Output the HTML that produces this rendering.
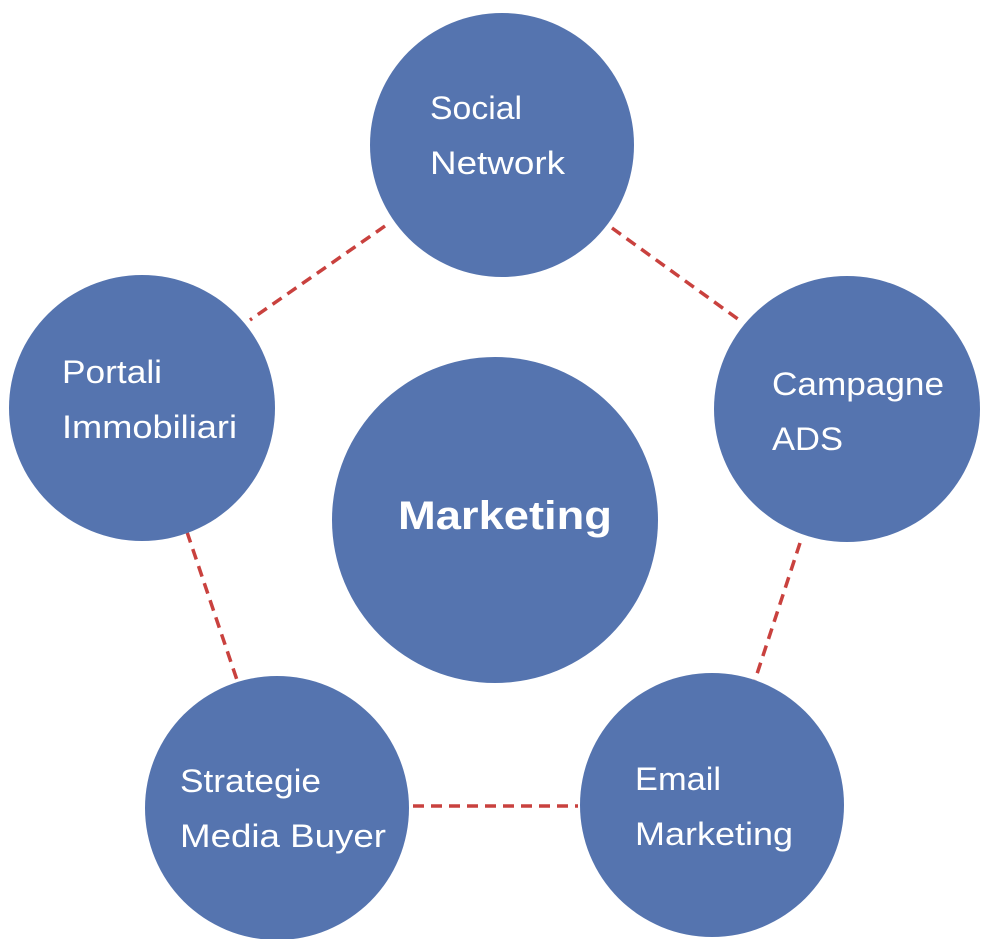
<!DOCTYPE html>
<html><head><meta charset="utf-8"><style>
html,body{margin:0;padding:0;background:#fff;}
svg{display:block;}
text{font-family:"Liberation Sans","DejaVu Sans",sans-serif;fill:#fff;}
</style></head><body>
<svg width="990" height="939" viewBox="0 0 990 939" xmlns="http://www.w3.org/2000/svg">
<g stroke="#C9413E" stroke-width="3.5" stroke-dasharray="11,7" fill="none">
<line x1="385" y1="226" x2="250" y2="320"/>
<line x1="612" y1="228" x2="742" y2="322"/>
<line x1="800" y1="543" x2="755" y2="680"/>
<line x1="413" y1="806" x2="578" y2="806"/>
<line x1="187" y1="532" x2="237" y2="680"/>
</g>
<g fill="#5574AF">
<circle cx="502" cy="145" r="132"/>
<circle cx="847" cy="409" r="133"/>
<circle cx="712" cy="805" r="132"/>
<circle cx="277" cy="808" r="132"/>
<circle cx="142" cy="408" r="133"/>
<circle cx="495" cy="520" r="163"/>
</g>
<g font-size="32" lengthAdjust="spacingAndGlyphs">
<text x="430" y="119" textLength="92" lengthAdjust="spacingAndGlyphs">Social</text>
<text x="430" y="174" textLength="135" lengthAdjust="spacingAndGlyphs">Network</text>
<text x="772" y="395" textLength="172" lengthAdjust="spacingAndGlyphs">Campagne</text>
<text x="772" y="450" textLength="71" lengthAdjust="spacingAndGlyphs">ADS</text>
<text x="635" y="790" textLength="86" lengthAdjust="spacingAndGlyphs">Email</text>
<text x="635" y="845" textLength="158" lengthAdjust="spacingAndGlyphs">Marketing</text>
<text x="180" y="792" textLength="141" lengthAdjust="spacingAndGlyphs">Strategie</text>
<text x="180" y="847" textLength="206" lengthAdjust="spacingAndGlyphs">Media Buyer</text>
<text x="62" y="383" textLength="100" lengthAdjust="spacingAndGlyphs">Portali</text>
<text x="62" y="438" textLength="175" lengthAdjust="spacingAndGlyphs">Immobiliari</text>
</g>
<text x="398" y="529" font-size="40" font-weight="bold" textLength="214" lengthAdjust="spacingAndGlyphs">Marketing</text>
</svg>
</body></html>
